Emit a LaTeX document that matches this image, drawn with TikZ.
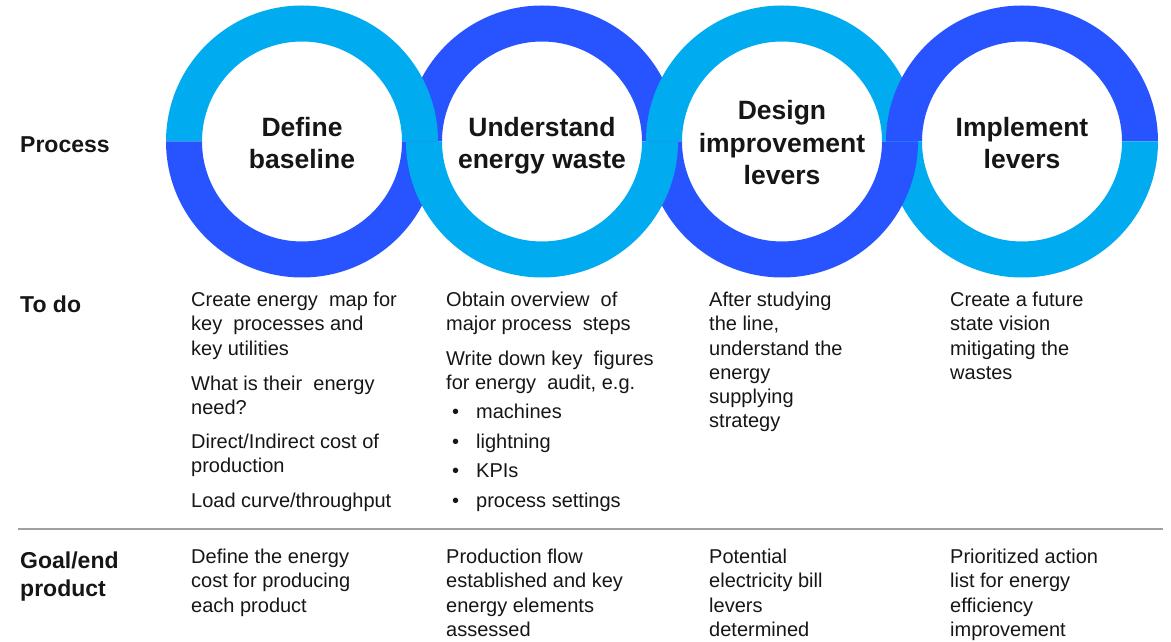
\documentclass[tikz,border=0pt]{standalone}
\usepackage{fontspec}
\setmainfont{Liberation Sans}
\usetikzlibrary{calc}
\definecolor{ringlight}{RGB}{0,172,239}
\definecolor{ringdark}{RGB}{40,84,255}
\definecolor{inktext}{RGB}{22,22,22}
\definecolor{rulegray}{RGB}{160,160,160}
% half of a ring: centre (#1,#2), starting angle #3, colour #4
\newcommand\ringhalf[4]{%
  \fill[#4] ($(#1,#2)+(#3:136)$) arc[start angle=#3, delta angle=180, radius=136]
    -- ($(#1,#2)+(#3+180:100)$) arc[start angle=#3+180, delta angle=-180, radius=100] -- cycle;}
\begin{document}
\begin{tikzpicture}[x=1pt,y=1pt,
  title/.style={align=center, text=inktext, inner sep=0pt,
    font=\bfseries\fontsize{26.5}{32.5}\selectfont},
  rowlabel/.style={anchor=north west, align=left, text=inktext, inner sep=0pt,
    font=\bfseries\fontsize{23}{28}\selectfont},
  body/.style={anchor=north west, align=left, text=inktext, inner sep=0pt,
    font=\fontsize{20}{24.2}\selectfont}]
\useasboundingbox (0,0) rectangle (1171,641);

% interlocking rings (drawing order sets which half passes over which)
\ringhalf{542}{499.5}{0}{ringdark}
\ringhalf{782}{499.5}{0}{ringlight}
\ringhalf{1022}{499.5}{0}{ringdark}
\ringhalf{302}{499.5}{0}{ringlight}
\ringhalf{1022}{499.5}{180}{ringlight}
\ringhalf{782}{499.5}{180}{ringdark}
\ringhalf{302}{499.5}{180}{ringdark}
\ringhalf{542}{499.5}{180}{ringlight}

% step titles inside the rings
\node[title] (t1) at (302,498) {Define\\baseline};
\node[title] (t2) at (542,495.5) {Understand\\energy waste};
\node[title] (t3) at (782,498) {Design\\improvement\\levers};
\node[title] (t4) at (1022,498) {Implement\\levers};

% row labels
\node[rowlabel] (lproc) at (20,505) {Process};
\node[rowlabel] (ltodo) at (20,345) {To do};
\node[rowlabel] (lgoal) at (20,89) {Goal/end\\product};

% "To do" row
\node[body] (d1) at (191,349) {Create energy\ \ map for\\key\ \ processes and\\key utilities\\[11pt]
  What is their\ \ energy\\need?\\[10pt]
  Direct/Indirect cost of\\production\\[10pt]
  Load curve/throughput};
\node[body] (d2) at (446,349) {Obtain overview\ \ of\\major process\ \ steps\\[10pt]
  Write down key\ \ figures\\for energy\ \ audit, e.g.\\[5.5pt]
  \hspace*{6pt}\makebox[24pt][l]{\textbullet}machines\\[5.2pt]
  \hspace*{6pt}\makebox[24pt][l]{\textbullet}lightning\\[5.2pt]
  \hspace*{6pt}\makebox[24pt][l]{\textbullet}KPIs\\[5.2pt]
  \hspace*{6pt}\makebox[24pt][l]{\textbullet}process settings};
\node[body] (d3) at (709,349) {After studying\\the line,\\understand the\\energy\\supplying\\strategy};
\node[body] (d4) at (950,349) {Create a future\\state vision\\mitigating the\\wastes};

% separator
\coordinate (sepL) at (18,112);
\coordinate (sepR) at (1163,112);
\draw[rulegray, line width=1.6pt] (sepL) -- (sepR);

% "Goal/end product" row
\node[body] (g1) at (191,92) {Define the energy\\cost for producing\\each product};
\node[body] (g2) at (446,92) {Production flow\\established and key\\energy elements\\assessed};
\node[body] (g3) at (709,92) {Potential\\electricity bill\\levers\\determined};
\node[body] (g4) at (950,92) {Prioritized action\\list for energy\\efficiency\\improvement};
\end{tikzpicture}
\end{document}
